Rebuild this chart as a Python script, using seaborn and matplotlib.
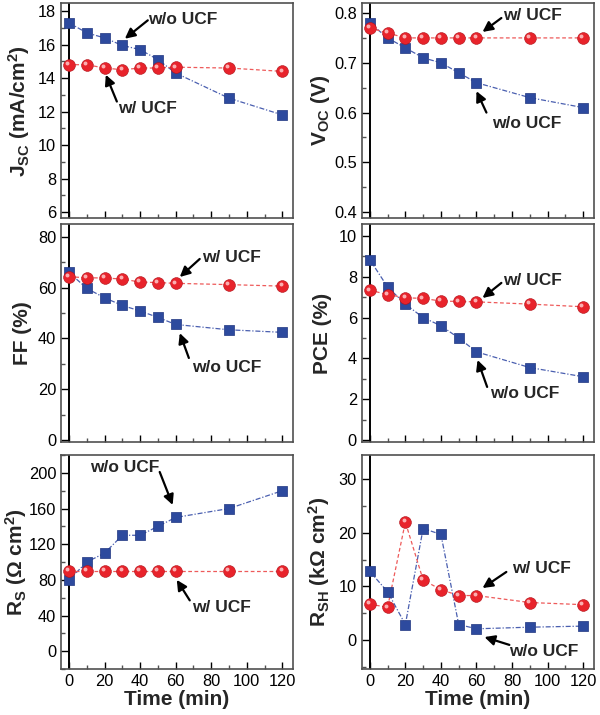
import numpy as np
import pandas as pd
import matplotlib
matplotlib.use("Agg")
import matplotlib.pyplot as plt
import matplotlib.transforms as mtransforms
from matplotlib.ticker import MultipleLocator
import seaborn as sns

# ---------------- data ----------------
time_min = [0, 10, 20, 30, 40, 50, 60, 90, 120]

jsc_wo = [17.3, 16.7, 16.4, 15.95, 15.7, 15.1, 14.3, 12.8, 11.8]
jsc_w = [14.8, 14.8, 14.6, 14.5, 14.6, 14.6, 14.65, 14.6, 14.4]

voc_wo = [0.78, 0.75, 0.73, 0.71, 0.70, 0.68, 0.66, 0.63, 0.61]
voc_w = [0.77, 0.76, 0.75, 0.75, 0.75, 0.75, 0.75, 0.75, 0.75]

ff_wo = [66.0, 59.7, 56.0, 53.0, 50.8, 48.3, 45.5, 43.4, 42.4]
ff_w = [64.3, 63.9, 63.8, 63.4, 62.2, 62.0, 61.7, 61.2, 60.6]

pce_wo = [8.84, 7.5, 6.66, 6.0, 5.6, 5.0, 4.32, 3.55, 3.1]
pce_w = [7.34, 7.13, 6.97, 6.94, 6.81, 6.79, 6.77, 6.66, 6.53]

rs_wo = [80, 100, 110, 130, 130, 140, 150, 160, 180]
rs_w = [90, 90, 90, 90, 90, 90, 90, 90, 90]

rsh_wo = [12.8, 9.0, 2.9, 20.8, 19.7, 2.9, 2.1, 2.4, 2.6]
rsh_w = [6.7, 6.1, 22.0, 11.2, 9.4, 8.3, 8.3, 7.0, 6.6]

x_ticks = [0, 20, 40, 60, 80, 100, 120]
x_label = "Time (min)"
label_wo = "w/o UCF"
label_w = "w/ UCF"

# ---------------- style ----------------
sns.set_style("ticks")
plt.rcParams["font.family"] = ["Liberation Sans", "DejaVu Sans"]
plt.rcParams["mathtext.fontset"] = "custom"
plt.rcParams["mathtext.rm"] = "Liberation Sans:bold"
plt.rcParams["mathtext.it"] = "Liberation Sans:bold"
plt.rcParams["mathtext.bf"] = "Liberation Sans:bold"

RED = "#e8232b"
RED_EDGE = "#b01018"
RED_LINE = "#ee5a5a"
BLUE = "#2d4a9e"
BLUE_EDGE = "#1e3580"
BLUE_LINE = "#4a5fb0"
FRAME = "#505050"

fig = plt.figure(figsize=(6.0, 7.15), dpi=100)

col_left = [0.1017, 0.603]
col_w = 0.387
rows = [(0.695, 0.3007), (0.3818, 0.305), (0.0643, 0.2993)]

panels = [
    # (wo, w, ylabel, label x, ylim, major, minor, annotations)
    (jsc_wo, jsc_w, r"J$_{SC}$ (mA/cm$^{2}$)", -0.123, (5.64, 18.48), 2, 1,
     [(label_wo, (64, 17.5), (44.3, 17.45), (31.4, 16.35)),
      (label_w, (44, 12.2), (26.9, 12.6), (20.7, 14.2))]),
    (voc_wo, voc_w, r"V$_{OC}$ (V)", -0.128, (0.388, 0.82), 0.1, 0.05,
     [(label_w, (91.5, 0.796), (74, 0.79), (63.4, 0.762)),
      (label_wo, (88, 0.579), (65.6, 0.60), (60, 0.643))]),
    (ff_wo, ff_w, "FF (%)", -0.123, (-0.8, 85.1), 20, 10,
     [(label_w, (91.5, 71.7), (73.5, 71.3), (62.3, 64.2)),
      (label_wo, (88.6, 28.7), (67.4, 32.3), (62.3, 42.1))]),
    (pce_wo, pce_w, "PCE (%)", -0.128, (-0.1, 10.59), 2, 1,
     [(label_w, (91.5, 7.84), (74, 7.7), (63.4, 6.96)),
      (label_wo, (87, 2.3), (66, 2.6), (60.6, 3.92))]),
    (rs_wo, rs_w, r"R$_{S}$ ($\Omega$ cm$^{2}$)", -0.138, (-20, 220), 40, 20,
     [(label_wo, (31.4, 205.6), (51, 201), (58.3, 164)),
      (label_w, (85.8, 49.4), (67.9, 57), (60.6, 80))]),
    (rsh_wo, rsh_w, r"R$_{SH}$ (k$\Omega$ cm$^{2}$)", -0.128, (-5.4, 34.5), 10, 5,
     [(label_w, (96.5, 13.4), (76.8, 12.7), (63.4, 9.7)),
      (label_wo, (98, -2.2), (78.5, -0.9), (64.5, 0.56))]),
]

for i, (wo, w, ylab, lx, ylim, major, minor, annots) in enumerate(panels):
    r, c = divmod(i, 2)
    b, h = rows[r]
    ax = fig.add_axes([col_left[c], b, col_w, h])
    df = pd.DataFrame({"t": time_min, "wo": wo, "w": w})

    ax.axvline(0, color="black", lw=1.4, zorder=1)

    sns.lineplot(data=df, x="t", y="wo", ax=ax, color=BLUE_LINE, lw=0.9,
                 linestyle=(0, (4, 1.5, 1, 1.5)), zorder=2)
    sns.lineplot(data=df, x="t", y="w", ax=ax, color=RED_LINE, lw=0.9,
                 linestyle=(0, (3, 2)), zorder=2)
    sns.scatterplot(data=df, x="t", y="wo", ax=ax, marker="s", s=58,
                    color=BLUE, edgecolor=BLUE_EDGE, linewidth=0.5, zorder=3)
    sns.scatterplot(data=df, x="t", y="w", ax=ax, marker="o", s=72,
                    color=RED, edgecolor=RED_EDGE, linewidth=0.4, zorder=4)
    hl = mtransforms.offset_copy(ax.transData, fig=fig, x=-1.2, y=1.2, units="points")
    ax.scatter(df["t"], df["w"], s=8, color="#ffc8c8", alpha=0.85,
               linewidths=0, transform=hl, zorder=5)

    ax.set_xlim(-4.5, 126.1)
    ax.set_ylim(*ylim)
    ax.xaxis.set_major_locator(MultipleLocator(20))
    ax.xaxis.set_minor_locator(MultipleLocator(10))
    ax.yaxis.set_major_locator(MultipleLocator(major))
    ax.yaxis.set_minor_locator(MultipleLocator(minor))
    ax.tick_params(which="both", direction="in", top=False, right=False,
                   color=FRAME, width=1.0)
    ax.tick_params(which="major", length=5, labelsize=11.8, colors="black")
    ax.tick_params(which="minor", length=3)
    for sp in ax.spines.values():
        sp.set_color(FRAME)
        sp.set_linewidth(1.2)

    ax.set_ylabel(ylab, fontsize=15, fontweight="bold")
    ax.yaxis.set_label_coords(lx, 0.5)
    if r == 2:
        ax.set_xticks(x_ticks)
        ax.set_xlabel(x_label, fontsize=15, fontweight="bold", labelpad=1)
    else:
        ax.set_xlabel("")
        ax.tick_params(axis="x", labelbottom=False)

    for txt, tpos, tail, tip in annots:
        ax.text(tpos[0], tpos[1], txt, fontsize=12.5, fontweight="bold",
                ha="center", va="center", zorder=6)
        ax.annotate("", xy=tip, xytext=tail,
                    arrowprops=dict(arrowstyle="-|>,head_length=0.6,head_width=0.3",
                                    color="black", lw=1.6, shrinkA=0, shrinkB=0),
                    zorder=6)

fig.savefig("out.png", dpi=100)
